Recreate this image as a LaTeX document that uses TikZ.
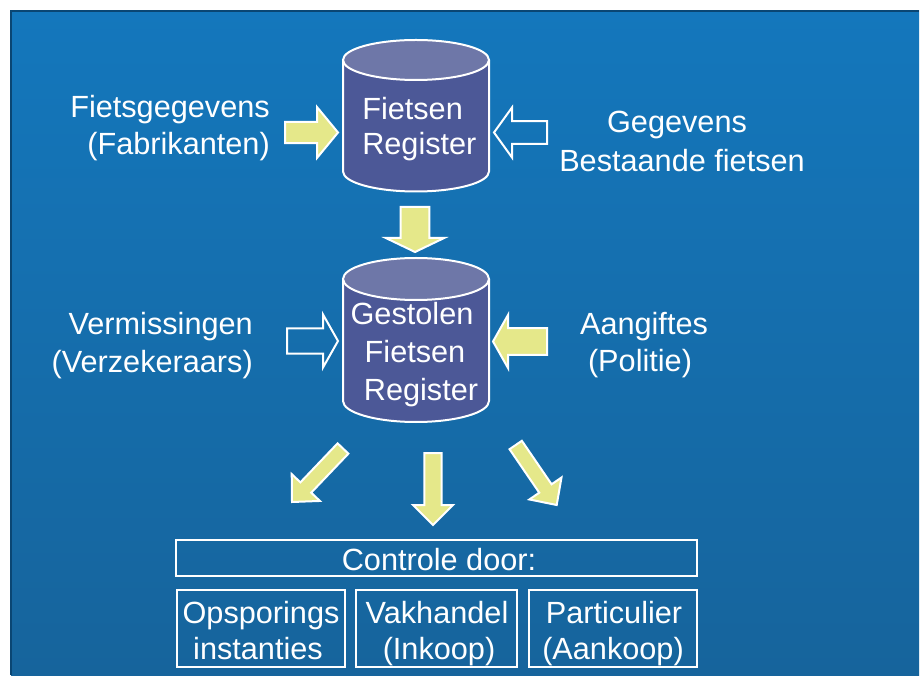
\documentclass[tikz,border=0pt]{standalone}
\usepackage{fontspec}
\setmainfont{Liberation Sans}
\usetikzlibrary{calc}
\definecolor{bgtop}{RGB}{20,119,188}
\definecolor{bgbot}{RGB}{22,100,156}
\definecolor{bgedge}{RGB}{10,70,115}
\definecolor{cylbody}{RGB}{76,88,151}
\definecolor{cyltop}{RGB}{110,119,168}
\definecolor{arrowyellow}{RGB}{229,232,138}
\newcommand\myblockarrow[6]{% style, tail, tip, shaft half width, head half width, head length
  \coordinate (ba-t) at (#2);
  \coordinate (ba-p) at (#3);
  \coordinate (ba-b) at ($(ba-p)!#6!(ba-t)$);
  \path[#1] ($(ba-t)!#4!90:(ba-p)$) -- ($(ba-b)!#4!90:(ba-p)$) -- ($(ba-b)!#5!90:(ba-p)$) -- (ba-p)
    -- ($(ba-b)!#5!-90:(ba-p)$) -- ($(ba-b)!#4!-90:(ba-p)$) -- ($(ba-t)!#4!-90:(ba-p)$) -- cycle;
}
\tikzset{
  lbl/.style={text=white, font=\fontsize{23}{28}\selectfont, inner sep=0pt},
  yarrow/.style={fill=arrowyellow, draw=white, line width=1.5pt, line join=miter},
  oarrow/.style={draw=white, line width=1.5pt, line join=miter},
  cylline/.style={draw=white, line width=1.5pt},
  boxst/.style={draw=white, line width=2pt, inner sep=0pt}
}
\begin{document}
\begin{tikzpicture}[x=0.75pt,y=0.75pt]
\useasboundingbox (0,0) rectangle (923,675);
% background
\shade[top color=bgtop, bottom color=bgbot] (11,0) rectangle (919,664);
\draw[bgedge, line width=0.8pt] (11,0) -- (11,664) -- (919,664);

% cylinder 1
\coordinate (cyl1top) at (416,615);
\coordinate (cyl1bot) at (416,503.5);
\fill[cylbody] (343,615) -- (343,503.5) arc[start angle=180, end angle=360, x radius=54.75pt, y radius=15pt] -- (489,615) -- cycle;
\draw[cylline] (343,615) -- (343,503.5) arc[start angle=180, end angle=360, x radius=54.75pt, y radius=15pt] -- (489,615);
\filldraw[cylline, fill=cyltop] (cyl1top) ellipse [x radius=54.75pt, y radius=15pt];
\node[lbl, anchor=base west] (c1a) at (362,555) {Fietsen};
\node[lbl, anchor=base west] (c1b) at (362,520) {Register};

% cylinder 2
\coordinate (cyl2top) at (416,396);
\coordinate (cyl2bot) at (416,274);
\fill[cylbody] (343,396) -- (343,274) arc[start angle=180, end angle=360, x radius=54.75pt, y radius=15.75pt] -- (489,396) -- cycle;
\draw[cylline] (343,396) -- (343,274) arc[start angle=180, end angle=360, x radius=54.75pt, y radius=15.75pt] -- (489,396);
\filldraw[cylline, fill=cyltop] (cyl2top) ellipse [x radius=54.75pt, y radius=15.75pt];
\node[lbl, anchor=base] (c2a) at (412,350) {Gestolen};
\node[lbl, anchor=base] (c2b) at (415,312) {Fietsen};
\node[lbl, anchor=base] (c2c) at (421,275) {Register};

% side labels
\node[lbl, anchor=base east] (l1a) at (270,557) {Fietsgegevens};
\node[lbl, anchor=base east] (l1b) at (270,520) {(Fabrikanten)};
\node[lbl, anchor=base] (r1a) at (677,542) {Gegevens};
\node[lbl, anchor=base] (r1b) at (682,503) {Bestaande fietsen};
\node[lbl, anchor=base east] (l2a) at (253,340) {Vermissingen};
\node[lbl, anchor=base east] (l2b) at (253,302) {(Verzekeraars)};
\node[lbl, anchor=base] (r2a) at (644,340) {Aangiftes};
\node[lbl, anchor=base] (r2b) at (640,303) {(Politie)};

% block arrows
\myblockarrow{yarrow}{285,542.5}{338,542.5}{7.9pt}{19.1pt}{15.75pt}
\myblockarrow{oarrow}{547,542.5}{494,542.5}{8.6pt}{18.75pt}{13.5pt}
\myblockarrow{yarrow}{415,468}{415,423}{10.7pt}{21.9pt}{10.5pt}
\myblockarrow{oarrow}{287,334}{338,334}{9.4pt}{19.9pt}{11.25pt}
\myblockarrow{yarrow}{547,333.5}{493,333.5}{10.1pt}{19.9pt}{11.25pt}
\myblockarrow{yarrow}{433,222}{433,150}{6.4pt}{15pt}{15pt}
\myblockarrow{yarrow}{343,226.5}{292,173}{5.6pt}{14.6pt}{15pt}
\myblockarrow{yarrow}{515.7,230}{556.7,170}{5.6pt}{14.6pt}{15pt}

% boxes
\node[boxst, minimum width=390.75pt, minimum height=27pt] (ctrl) at (436.5,117) {};
\node[lbl, anchor=base] (ctrltxt) at (439,105) {Controle door:};
\node[boxst, minimum width=126pt, minimum height=57.75pt] (b1) at (261,46.5) {};
\node[boxst, minimum width=120.75pt, minimum height=57.75pt] (b2) at (436.5,46.5) {};
\node[boxst, minimum width=126pt, minimum height=57.75pt] (b3) at (613,46.5) {};
\node[lbl, anchor=base] (b1a) at (261,52) {Opsporings};
\node[lbl, anchor=base] (b1b) at (258,16) {instanties};
\node[lbl, anchor=base] (b2a) at (437,52) {Vakhandel};
\node[lbl, anchor=base] (b2b) at (439,16) {(Inkoop)};
\node[lbl, anchor=base] (b3a) at (614,52) {Particulier};
\node[lbl, anchor=base] (b3b) at (613,16) {(Aankoop)};
\end{tikzpicture}
\end{document}
